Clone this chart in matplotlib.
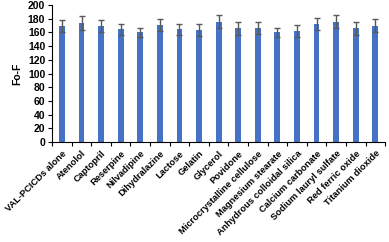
import numpy as np
import matplotlib
matplotlib.use("Agg")
import matplotlib.pyplot as plt

# categories and Fo-F values
labels = ["VAL-PCICDs alone", "Atenolol", "Captopril", "Reserpine", "Nilvadipine",
          "Dihydralazine", "Lactose", "Gelatin", "Glycerol", "Povidone",
          "Microcrystalline cellulose", "Magnesium stearate", "Anhydrous colloidal silica",
          "Calcium carbonate", "Sodium lauryl sulfate", "Red ferric oxide", "Titanium dioxide"]
values = [169, 174, 169, 165, 160, 171, 165, 164, 176, 166, 167, 160, 162, 172, 176, 166, 170]
errors = [9, 10, 9, 8, 7, 9, 8, 9, 9, 9, 9, 7, 9, 9, 9, 9, 10]

plt.rcParams['font.family'] = ['Liberation Sans', 'DejaVu Sans']

fig = plt.figure(figsize=(3.89, 2.42), dpi=100)
ax = fig.add_axes([0.134, 0.413, 0.856, 0.566])

x = np.arange(len(labels))
ax.bar(x, values, width=0.3, color='#4472C4',
       yerr=errors, capsize=2.5, error_kw=dict(ecolor='#595959', elinewidth=1, capthick=1))

ax.set_xlim(-0.5, len(labels) - 0.5)
ax.set_ylim(0, 200)
ax.set_yticks(np.arange(0, 201, 20))
ax.set_yticklabels([str(v) for v in range(0, 201, 20)], fontsize=7.5, fontweight='bold')

ax.set_xticks(x)
ax.set_xticklabels(labels, rotation=45, ha='right', rotation_mode='anchor',
                   fontsize=6.7, fontweight='bold')
ax.tick_params(axis='x', which='major', length=0, pad=5)
ax.set_xticks(np.arange(-0.5, len(labels)), minor=True)
ax.tick_params(axis='x', which='minor', length=3, width=0.8)
ax.tick_params(axis='y', length=3, width=0.8, pad=2)

ax.set_ylabel('Fo-F', fontsize=7.5, fontweight='bold', labelpad=4)

for s in ['top', 'right']:
    ax.spines[s].set_visible(False)
for s in ['left', 'bottom']:
    ax.spines[s].set_linewidth(0.8)

fig.savefig('out.png', dpi=100)
